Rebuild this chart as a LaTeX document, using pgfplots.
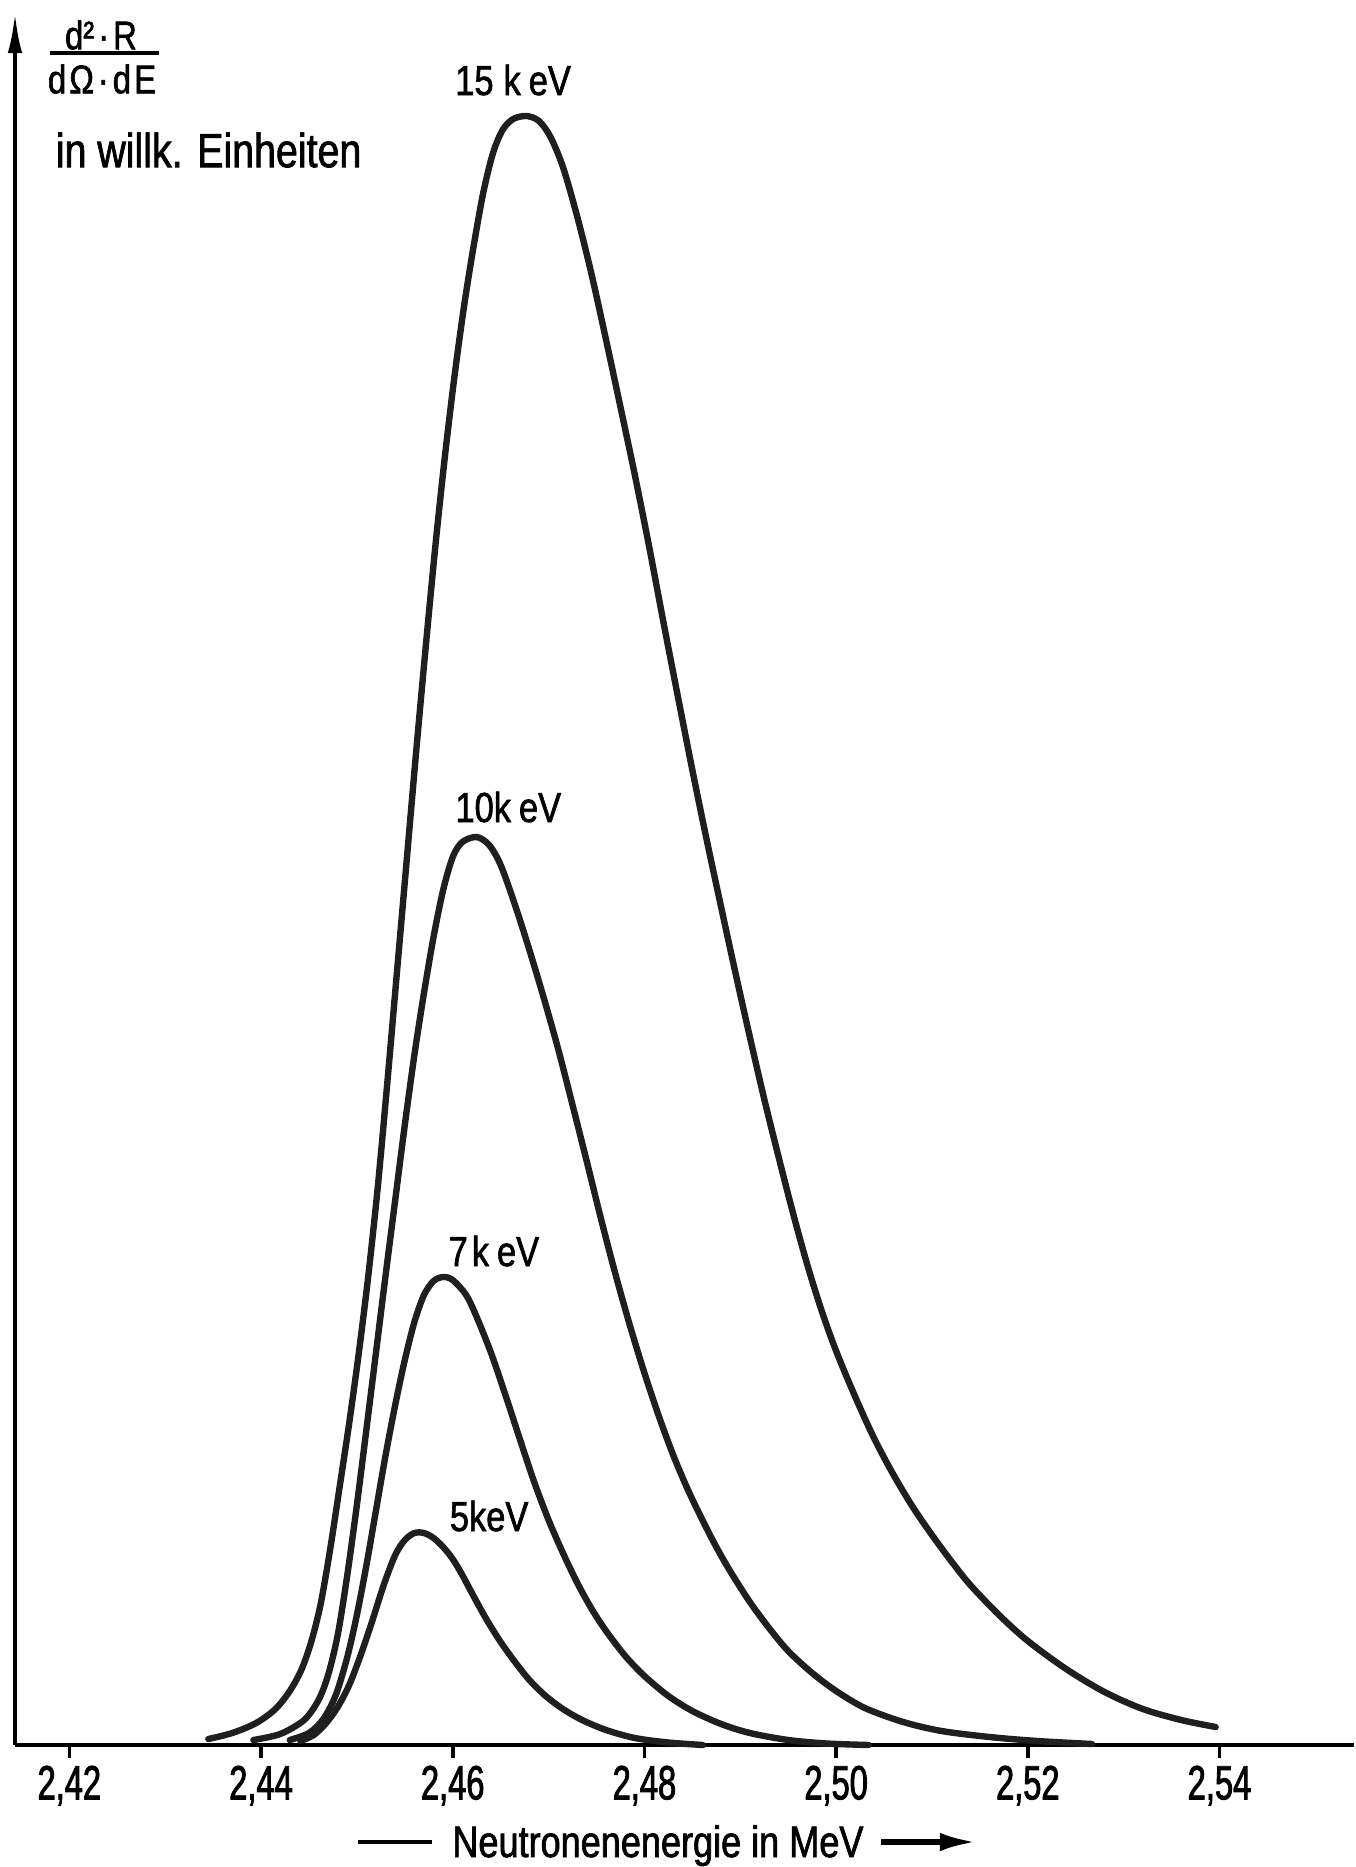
\documentclass[border=0pt]{standalone}
\usepackage{pgfplots}
\pgfplotsset{compat=1.18}
\usepackage{pgfplotstable}
\usetikzlibrary{arrows.meta}
\usepackage{fontspec}
\setmainfont{Liberation Sans}[FakeStretch=0.82, FakeBold=1.5]
\newfontfamily\tickfont{Liberation Sans}[FakeStretch=0.68, FakeBold=1.8]

\tikzset{curvelabel/.style={font=\fontsize{10.5}{11}\selectfont}}

% Neutron spectra d2R/(dOmega dE), arbitrary units, for several target temperatures
\pgfplotstableread{
E      v
2.4345 6
2.4370 12
2.4395 22
2.4415 36
2.4430 54
2.4442 75
2.4452 102
2.4462 140
2.4472 195
2.4482 258
2.4492 322
2.4502 392
2.4512 470
2.4522 560
2.4532 665
2.4542 775
2.4552 885
2.4562 995
2.4572 1100
2.4582 1200
2.4592 1290
2.4602 1370
2.4612 1440
2.4622 1500
2.4632 1553
2.4642 1592
2.4652 1615
2.4663 1626
2.4677 1629
2.4690 1624
2.4702 1608
2.4715 1578
2.4730 1528
2.4745 1470
2.4760 1405
2.4775 1338
2.4790 1270
2.4805 1198
2.4820 1122
2.4835 1048
2.4850 975
2.4865 905
2.4880 838
2.4895 772
2.4910 708
2.4925 646
2.4940 588
2.4955 532
2.4970 480
2.4985 434
2.5000 394
2.5020 348
2.5040 306
2.5060 270
2.5080 238
2.5100 210
2.5120 184
2.5140 160
2.5170 130
2.5200 104
2.5240 76
2.5280 53
2.5320 36
2.5360 25
2.5396 18
}\kevfifteen

\pgfplotstableread{
E      v
2.4392 5
2.4420 11
2.4445 25
2.4460 45
2.4470 70
2.4480 110
2.4490 170
2.4500 240
2.4510 316
2.4520 393
2.4530 470
2.4540 545
2.4550 620
2.4560 690
2.4570 752
2.4580 808
2.4590 855
2.4600 888
2.4610 903
2.4625 908
2.4638 900
2.4650 880
2.4665 840
2.4680 795
2.4695 747
2.4710 696
2.4725 640
2.4740 583
2.4755 525
2.4770 470
2.4785 419
2.4800 372
2.4815 329
2.4830 290
2.4845 256
2.4860 226
2.4875 198
2.4890 173
2.4910 143
2.4930 117
2.4950 94
2.4975 72
2.5000 54
2.5030 37
2.5070 23
2.5110 14
2.5160 8
2.5210 4
2.5267 1
}\kevten

\pgfplotstableread{
E      v
2.4430 5
2.4450 12
2.4465 26
2.4478 50
2.4490 88
2.4500 130
2.4510 180
2.4520 235
2.4530 290
2.4540 340
2.4550 385
2.4560 423
2.4570 450
2.4580 464
2.4590 468
2.4600 465
2.4614 450
2.4625 428
2.4640 392
2.4655 350
2.4670 306
2.4685 263
2.4700 225
2.4715 192
2.4730 162
2.4745 136
2.4760 114
2.4780 89
2.4800 69
2.4825 49
2.4850 34
2.4880 21
2.4910 12
2.4950 5
2.4990 1.5
2.5034 0
}\kevseven

\pgfplotstableread{
E      v
2.4441 4
2.4455 10
2.4468 22
2.4480 38
2.4492 60
2.4504 90
2.4516 124
2.4528 160
2.4540 190
2.4550 205
2.4560 212
2.4570 212
2.4580 207
2.4590 198
2.4600 186
2.4610 170
2.4620 152
2.4635 126
2.4650 103
2.4665 83
2.4680 65
2.4697 49
2.4715 36
2.4735 25
2.4760 15
2.4790 7
2.4825 2.5
2.4861 0
}\kevfive

\begin{document}
\begin{tikzpicture}
\begin{axis}[
  scale only axis, width=334.75pt, height=433pt,
  xmin=2.41433, xmax=2.55403, ymin=0, ymax=1732,
  axis x line=bottom, axis y line=left,
  x axis line style={-, line width=1pt},
  y axis line style={-{Latex[length=10pt,width=3.6pt]}, line width=1pt},
  xtick={2.42,2.44,2.46,2.48,2.50,2.52,2.54},
  xticklabels={{2,42},{2,44},{2,46},{2,48},{2,50},{2,52},{2,54}},
  ytick=\empty,
  tick align=outside, major tick length=3.2pt,
  xtick style={line width=0.9pt, black},
  xticklabel style={font=\tickfont\fontsize{12}{12}\selectfont, anchor=north, inner sep=0pt, yshift=-1.8pt},
  clip=false,
  curve/.style={black!88, no markers, line width=1.6pt, smooth, tension=0.5, line cap=round, line join=round},
]
% page extent around the axis
\path (rel axis cs:-0.0112,-0.07044) rectangle (rel axis cs:1,1.0075);

\addplot[curve] table[x=E,y=v] {\kevfifteen};
\addplot[curve] table[x=E,y=v] {\kevten};
\addplot[curve] table[x=E,y=v] {\kevseven};
\addplot[curve] table[x=E,y=v] {\kevfive};

\node[curvelabel] at (axis cs:2.4663,1665) {15\kern2.5pt k\kern2pt eV};
\node[curvelabel] at (axis cs:2.4658,938) {10k\kern2pt eV};
\node[curvelabel] at (axis cs:2.4643,494) {7\kern1pt k\kern2pt eV};
\node[curvelabel] at (axis cs:2.4638,229) {5keV};

% ordinate label
\node[font=\fontsize{10}{10}\selectfont, inner sep=0pt] at (rel axis cs:0.0642,0.9873) {d²\kern1pt·\kern1pt R};
\draw[line width=0.8pt] (rel axis cs:0.0261,0.9769) -- (rel axis cs:0.1075,0.9769);
\node[font=\fontsize{10}{10}\selectfont, inner sep=0pt] at (rel axis cs:0.0650,0.9619) {d\kern0.8pt Ω\kern1pt·\kern1pt d\kern0.8pt E};
\node[font=\fontsize{12}{12}\selectfont, anchor=west, inner sep=0pt] at (rel axis cs:0.0299,0.9209) {in willk. Einheiten};

% abscissa label with arrow
\node[font=\fontsize{11}{11}\selectfont, anchor=base, inner sep=0pt] at (rel axis cs:0.4802,-0.06467) {Neutronenenergie in MeV};
\draw[line width=0.9pt] (rel axis cs:0.2562,-0.0560) -- (rel axis cs:0.3114,-0.0560);
\draw[line width=1.3pt, -{Latex[length=9pt,width=4.6pt]}] (rel axis cs:0.6467,-0.0560) -- (rel axis cs:0.7177,-0.0560);
\end{axis}
\end{tikzpicture}
\end{document}
